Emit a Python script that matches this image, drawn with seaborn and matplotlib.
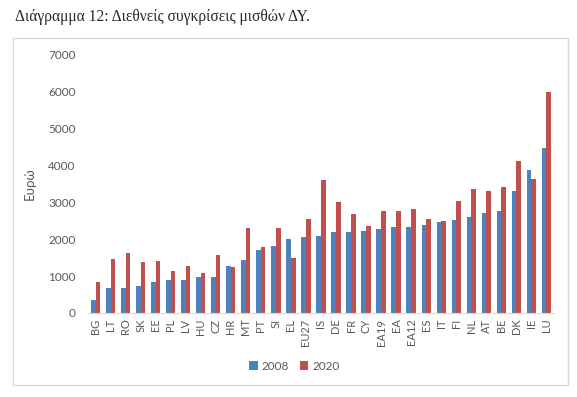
import pandas as pd
import seaborn as sns
import matplotlib.pyplot as plt
from matplotlib.patches import Rectangle

# data (euro)
countries = ['BG', 'LT', 'RO', 'SK', 'EE', 'PL', 'LV', 'HU', 'CZ', 'HR', 'MT', 'PT',
             'SI', 'EL', 'EU27', 'IS', 'DE', 'FR', 'CY', 'EA19', 'EA', 'EA12', 'ES',
             'IT', 'FI', 'NL', 'AT', 'BE', 'DK', 'IE', 'LU']
wages_2008 = [360, 690, 690, 740, 840, 885, 900, 975, 985, 1275, 1445, 1715,
              1825, 2005, 2070, 2085, 2195, 2195, 2230, 2275, 2330, 2330, 2395,
              2465, 2510, 2600, 2710, 2765, 3300, 3885, 4465]
wages_2020 = [840, 1460, 1625, 1390, 1400, 1150, 1280, 1085, 1570, 1255, 2300, 1800,
              2310, 1490, 2555, 3605, 3010, 2685, 2365, 2765, 2765, 2810, 2550,
              2500, 3025, 3370, 3315, 3425, 4120, 3630, 6000]
years = ['2008', '2020']
colors = ['#4F81BD', '#C0504D']

df = pd.DataFrame({'country': countries * 2,
                   'year': [years[0]] * len(countries) + [years[1]] * len(countries),
                   'value': wages_2008 + wages_2020})

sns.set_style('white')
plt.rcParams['font.family'] = ['Lato', 'DejaVu Sans']

fig = plt.figure(figsize=(5.77, 3.97), dpi=100)
ax = fig.add_axes([0.1525, 0.2116, 0.8075, 0.65])

sns.barplot(data=df, x='country', y='value', hue='year', palette=colors,
            width=0.62, saturation=1, ax=ax, errorbar=None, linewidth=0)

ax.set_ylim(0, 7000)
ax.set_yticks(range(0, 7001, 1000))
ax.set_xlim(-0.5, len(countries) - 0.5)
ax.tick_params(axis='y', labelsize=8.5, labelcolor='#595959', length=0, pad=9)
ax.tick_params(axis='x', labelsize=8, labelcolor='#595959', length=0, rotation=90, pad=4)
ax.set_xlabel('')
ax.set_ylabel('Ευρώ', fontsize=9.5, color='#595959', labelpad=9)
sns.despine(ax=ax, left=True)
ax.spines['bottom'].set_color('#D9D9D9')

leg = ax.legend(loc='center', bbox_to_anchor=(0.51, 0.078), bbox_transform=fig.transFigure,
                ncol=2, frameon=False, fontsize=8.5, handlelength=0.7, handleheight=0.7,
                columnspacing=1.0, handletextpad=0.3)
for t in leg.get_texts():
    t.set_color('#595959')

# outer chart border
fig.patches.append(Rectangle((13 / 577, 1 - 385 / 397), 555 / 577, 347 / 397,
                             transform=fig.transFigure, fill=False,
                             edgecolor='#D9D9D9', linewidth=1))

fig.text(15 / 577, 1 - 17 / 397, 'Διάγραμμα 12: Διεθνείς συγκρίσεις μισθών ΔΥ.',
         family=['Liberation Serif', 'DejaVu Serif'], fontsize=11.2, va='center', ha='left')

fig.savefig('out.png', dpi=100)
